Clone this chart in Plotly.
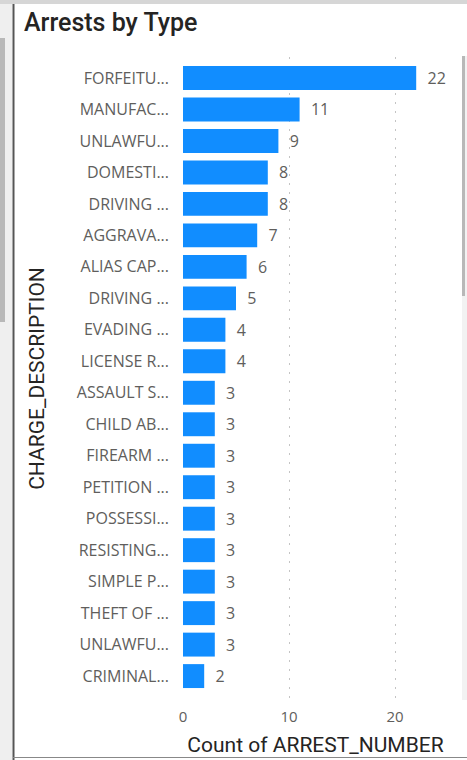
import plotly.graph_objects as go

labels = ["FORFEITU...", "MANUFAC...", "UNLAWFU...", "DOMESTI...", "DRIVING ...",
          "AGGRAVA...", "ALIAS CAP...", "DRIVING ...", "EVADING ...", "LICENSE R...",
          "ASSAULT S...", "CHILD AB...", "FIREARM ...", "PETITION ...", "POSSESSI...",
          "RESISTING...", "SIMPLE P...", "THEFT OF ...", "UNLAWFU...", "CRIMINAL..."]
values = [22, 11, 9, 8, 8, 7, 6, 5, 4, 4, 3, 3, 3, 3, 3, 3, 3, 3, 3, 2]
x_ticks = [0, 10, 20]

W, H = 467, 760
L, R, T, B = 183, 19, 57, 60
pw, ph = W - L - R, H - T - B

def px(x):
    return (x - L) / pw

def py(y):
    return (H - B - y) / ph

pos = list(range(len(labels)))
NB = "\u00a0"

fig = go.Figure(go.Bar(
    x=values, y=pos, orientation="h",
    marker=dict(color="#118DFF", line=dict(width=0)),
    width=0.76,
    text=[NB + NB + str(v) for v in values], textposition="outside",
    textfont=dict(family="Open Sans", size=16, color="#605E5C"),
    cliponaxis=False,
    hoverinfo="none",
))

shapes = [
    dict(type="rect", xref="paper", yref="paper", x0=px(0), x1=px(W), y0=py(0), y1=py(4),
         fillcolor="#D6D6D6", line=dict(width=0), layer="above"),
    dict(type="rect", xref="paper", yref="paper", x0=px(0), x1=px(12), y0=py(4), y1=py(H),
         fillcolor="#EFEFEF", line=dict(width=0), layer="below"),
    dict(type="rect", xref="paper", yref="paper", x0=px(0), x1=px(5), y0=py(38), y1=py(322),
         fillcolor="#B8B8B8", line=dict(width=0), layer="below"),
    dict(type="line", xref="paper", yref="paper", x0=px(13.5), x1=px(13.5), y0=py(4), y1=py(H),
         line=dict(color="#555555", width=2)),
    dict(type="line", xref="paper", yref="paper", x0=px(13), x1=px(W), y0=py(757.5), y1=py(757.5),
         line=dict(color="#888888", width=1)),
    dict(type="rect", xref="paper", yref="paper", x0=px(462), x1=px(W), y0=py(56), y1=py(700),
         fillcolor="#F2F2F2", line=dict(width=0), layer="below"),
    dict(type="rect", xref="paper", yref="paper", x0=px(462), x1=px(465), y0=py(56), y1=py(296),
         fillcolor="#B8B8B8", line=dict(width=0), layer="below"),
]

fig.update_layout(
    width=W, height=H,
    margin=dict(l=L, r=R, t=T, b=B, pad=0),
    paper_bgcolor="white", plot_bgcolor="white",
    showlegend=False,
    title=dict(text="Arrests by Type", x=24 / W, xanchor="left", y=1 - 22 / H, yanchor="middle",
               xref="container", yref="container",
               font=dict(family="Roboto", size=25, color="#252423", weight=500)),
    xaxis=dict(range=[0, 25], tickvals=x_ticks, ticktext=[str(t) for t in x_ticks],
               automargin=False,
               showgrid=True, gridcolor="#C4C4C4", griddash="2px,7px", gridwidth=1,
               zeroline=False, showline=False, ticks="",
               ticklabelstandoff=6,
               tickfont=dict(family="Open Sans", size=15, color="#605E5C"),
               title=dict(text="Count of ARREST_NUMBER", standoff=12,
                          font=dict(family="Roboto", size=21, color="#252423"))),
    yaxis=dict(tickvals=pos, ticktext=labels,
               range=[19.76, -0.667],
               automargin=False,
               showgrid=False, zeroline=False, showline=False, ticks="",
               ticklabelstandoff=13,
               tickfont=dict(family="Open Sans", size=16, color="#605E5C"),
               title=dict(text="CHARGE_DESCRIPTION", standoff=26,
                          font=dict(family="Roboto", size=21, color="#252423"))),
    shapes=shapes,
)

fig.write_html("out.html", config={"displayModeBar": False},
               post_script="document.body.style.margin='0';document.body.style.overflow='hidden';")
